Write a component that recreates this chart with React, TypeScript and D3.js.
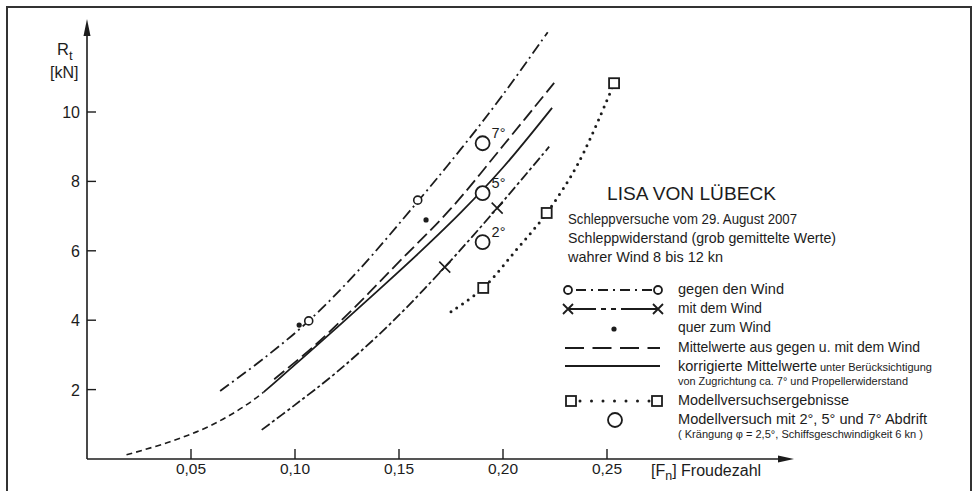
import * as d3 from "d3";

const W = 974;
const H = 491;

// axis ticks
const FN_TICKS = [0.05, 0.1, 0.15, 0.2, 0.25];
const FN_LABELS = ["0,05", "0,10", "0,15", "0,20", "0,25"];
const RT_TICKS = [2, 4, 6, 8, 10];

// gegen den Wind (dash-dot, small open circles)
const gegenFn = [0.064, 0.085, 0.1066, 0.13, 0.159, 0.18, 0.2, 0.2215];
const gegenRt = [1.96, 2.9, 3.98, 5.4, 7.42, 8.95, 10.5, 12.3];
const gegenMarkFn = [0.1066, 0.159];
const gegenMarkRt = [3.98, 7.46];

// mit dem Wind (dash, crosses)
const mitFn = [0.084, 0.1, 0.12, 0.145, 0.172, 0.1972, 0.2222];
const mitRt = [0.84, 1.56, 2.5, 3.85, 5.53, 7.23, 9.0];
const mitMarkFn = [0.172, 0.1972];
const mitMarkRt = [5.53, 7.23];

// quer zum Wind (dots)
const querFn = [0.102, 0.163];
const querRt = [3.86, 6.89];

// Mittelwerte aus gegen u. mit dem Wind (long dashes)
const mittelFn = [0.09, 0.11, 0.13, 0.15, 0.175, 0.201, 0.2246];
const mittelRt = [2.3, 3.3, 4.45, 5.68, 7.22, 9.1, 10.84];

// korrigierte Mittelwerte (solid, extrapolated part dashed)
const korrFn = [0.019, 0.04, 0.06, 0.08, 0.1, 0.12, 0.14, 0.16, 0.18, 0.2, 0.2236];
const korrRt = [0.12, 0.5, 0.98, 1.7, 2.72, 3.78, 4.86, 5.96, 7.12, 8.4, 10.12];
const korrSolidFrom = 0.085;

// Modellversuchsergebnisse (dotted, squares)
const modellFn = [0.175, 0.1905, 0.2063, 0.221, 0.2366, 0.2534];
const modellRt = [4.24, 4.93, 6.02, 7.09, 8.57, 10.83];
const modellMarkFn = [0.1905, 0.221, 0.2534];
const modellMarkRt = [4.93, 7.09, 10.83];

// Modellversuch mit Abdrift (big circles)
const abdriftFn = [0.1902, 0.1902, 0.1902];
const abdriftRt = [6.25, 7.66, 9.1];
const abdriftLabels = ["2°", "5°", "7°"];

const INK = "#1c1c1c";
const FONT = "'Liberation Sans', Arial, Helvetica, sans-serif";

const zip = (xs: number[], ys: number[]) => xs.map((x, i) => [x, ys[i]] as [number, number]);

export default function App() {
  const x = d3.scaleLinear().domain([0, 0.25]).range([87, 607]);
  const y = d3.scaleLinear().domain([0, 10]).range([459, 112]);

  const line = d3
    .line<[number, number]>()
    .x((d) => x(d[0]))
    .y((d) => y(d[1]))
    .curve(d3.curveCatmullRom.alpha(0.5));

  const x0 = x(0);
  const y0 = y(0);
  const splitX = x(korrSolidFrom);

  const cross = (cx: number, cy: number, s: number) =>
    `M${cx - s},${cy - s}L${cx + s},${cy + s}M${cx - s},${cy + s}L${cx + s},${cy - s}`;

  // legend layout
  const legSymX1 = 565;
  const legSymX2 = 660;
  const legTextX = 678;

  return (
    <svg
      width={W}
      height={H}
      style={{ position: "absolute", left: 0, top: 0, display: "block", background: "#fff" }}
      fontFamily={FONT}
    >
      <defs>
        <clipPath id="clipExtra">
          <rect x={0} y={0} width={splitX} height={H} />
        </clipPath>
        <clipPath id="clipSolid">
          <rect x={splitX} y={0} width={W - splitX} height={H} />
        </clipPath>
      </defs>

      {/* frame */}
      <rect x={7} y={7} width={964} height={500} fill="none" stroke="#333" strokeWidth={2} />

      {/* axes */}
      <g stroke={INK} strokeWidth={1.6} fill="none">
        <line x1={x0} x2={x0} y1={y0} y2={30} />
        <line x1={x0} x2={782} y1={y0} y2={y0} />
      </g>
      <path d={`M${x0},19L${x0 - 3.5},36L${x0 + 3.5},36Z`} fill={INK} />
      <path d={`M794,${y0}L778,${y0 - 3.5}L778,${y0 + 3.5}Z`} fill={INK} />

      {RT_TICKS.map((t) => (
        <g key={"ry" + t}>
          <line x1={x0} x2={x0 + 9} y1={y(t)} y2={y(t)} stroke={INK} strokeWidth={1.4} />
          <text x={80} y={y(t) + 6} textAnchor="end" fontSize={16} fill={INK}>
            {t}
          </text>
        </g>
      ))}
      {FN_TICKS.map((t, i) => (
        <g key={"fx" + t}>
          <line x1={x(t)} x2={x(t)} y1={y0} y2={y0 - 10} stroke={INK} strokeWidth={1.4} />
          <text x={x(t)} y={474} textAnchor="middle" fontSize={15.5} fill={INK}>
            {FN_LABELS[i]}
          </text>
        </g>
      ))}

      {/* axis titles */}
      <text x={57} y={55} fontSize={16.5} fill={INK}>
        R<tspan fontSize={13} dy={5}>t</tspan>
      </text>
      <text x={50} y={78} fontSize={16} fill={INK}>
        [kN]
      </text>
      <text x={651} y={476} fontSize={16} fill={INK}>
        [F<tspan fontSize={12.5} dy={4}>n</tspan>
        <tspan dy={-4}>] Froudezahl</tspan>
      </text>

      {/* curves */}
      <g fill="none" stroke={INK} strokeWidth={1.8}>
        <path d={line(zip(gegenFn, gegenRt)) || ""} strokeDasharray="11,4,2,4" />
        <path d={line(zip(mitFn, mitRt)) || ""} strokeDasharray="10,3,3,3" />
        <path d={line(zip(mittelFn, mittelRt)) || ""} strokeDasharray="13,5" />
        <path d={line(zip(korrFn, korrRt)) || ""} clipPath="url(#clipSolid)" />
        <path d={line(zip(korrFn, korrRt)) || ""} clipPath="url(#clipExtra)" strokeDasharray="6,4" strokeWidth={1.6} />
        <path
          d={line(zip(modellFn, modellRt)) || ""}
          strokeDasharray="0,7"
          strokeLinecap="round"
          strokeWidth={3}
        />
      </g>

      {/* markers */}
      {gegenMarkFn.map((f, i) => (
        <circle key={"g" + i} cx={x(f)} cy={y(gegenMarkRt[i])} r={4} fill="#fff" stroke={INK} strokeWidth={1.6} />
      ))}
      {mitMarkFn.map((f, i) => (
        <path key={"m" + i} d={cross(x(f), y(mitMarkRt[i]), 5.5)} stroke={INK} strokeWidth={1.6} />
      ))}
      {querFn.map((f, i) => (
        <circle key={"q" + i} cx={x(f)} cy={y(querRt[i])} r={2.6} fill={INK} />
      ))}
      {modellMarkFn.map((f, i) => (
        <rect
          key={"s" + i}
          x={x(f) - 5}
          y={y(modellMarkRt[i]) - 5}
          width={10}
          height={10}
          fill="#fff"
          stroke={INK}
          strokeWidth={1.8}
        />
      ))}
      {abdriftFn.map((f, i) => (
        <g key={"a" + i}>
          <circle cx={x(f)} cy={y(abdriftRt[i])} r={7} fill="#fff" stroke={INK} strokeWidth={1.8} />
          <text x={x(f) + 9} y={y(abdriftRt[i]) - 5} fontSize={14.5} fill={INK}>
            {abdriftLabels[i]}
          </text>
        </g>
      ))}

      {/* title block */}
      <g fill={INK}>
        <text x={607} y={200} fontSize={18} textLength={169} lengthAdjust="spacingAndGlyphs">
          LISA VON LÜBECK
        </text>
        <text x={568} y={224} fontSize={14.5} textLength={229} lengthAdjust="spacingAndGlyphs">
          Schleppversuche vom 29. August 2007
        </text>
        <text x={568} y={243} fontSize={14.5} textLength={268} lengthAdjust="spacingAndGlyphs">
          Schleppwiderstand (grob gemittelte Werte)
        </text>
        <text x={568} y={262} fontSize={14.5} textLength={155} lengthAdjust="spacingAndGlyphs">
          wahrer Wind 8 bis 12 kn
        </text>
      </g>

      {/* legend symbols */}
      <g fill="none" stroke={INK} strokeWidth={1.8}>
        <line x1={572} x2={654} y1={290} y2={290} strokeDasharray="10,5,2,5" strokeDashoffset={-4} />
        <circle cx={568} cy={290} r={4} fill="#fff" />
        <circle cx={658} cy={290} r={4} fill="#fff" />
        <line x1={568} x2={658} y1={309} y2={309} strokeDasharray="28,5,5,5,5,5,40" />
        <path d={cross(568, 309, 5)} />
        <path d={cross(658, 309, 5)} />
        <line x1={legSymX1} x2={legSymX2} y1={348} y2={348} strokeDasharray="19,8.5" />
        <line x1={legSymX1} x2={legSymX2} y1={366} y2={366} />
        <line x1={580} x2={650} y1={401} y2={401} strokeDasharray="0,11.5" strokeLinecap="round" strokeWidth={3} />
        <rect x={566} y={396} width={10} height={10} fill="#fff" />
        <rect x={652} y={396} width={10} height={10} fill="#fff" />
        <circle cx={615} cy={420} r={7} fill="#fff" />
      </g>
      <circle cx={614} cy={329} r={2.6} fill={INK} />

      {/* legend texts */}
      <g fill={INK} fontSize={14.5}>
        <text x={legTextX} y={294} textLength={106} lengthAdjust="spacingAndGlyphs">
          gegen den Wind
        </text>
        <text x={legTextX} y={313} textLength={84} lengthAdjust="spacingAndGlyphs">
          mit dem Wind
        </text>
        <text x={legTextX} y={332} textLength={93} lengthAdjust="spacingAndGlyphs">
          quer zum Wind
        </text>
        <text x={legTextX} y={352} textLength={242} lengthAdjust="spacingAndGlyphs">
          Mittelwerte aus gegen u. mit dem Wind
        </text>
        <text x={legTextX} y={371} textLength={139} lengthAdjust="spacingAndGlyphs">
          korrigierte Mittelwerte
        </text>
        <text x={820} y={371} fontSize={10} textLength={112} lengthAdjust="spacingAndGlyphs">
          unter Berücksichtigung
        </text>
        <text x={legTextX} y={385} fontSize={10} textLength={230} lengthAdjust="spacingAndGlyphs">
          von Zugrichtung ca. 7° und Propellerwiderstand
        </text>
        <text x={legTextX} y={405} textLength={171} lengthAdjust="spacingAndGlyphs">
          Modellversuchsergebnisse
        </text>
        <text x={legTextX} y={424} textLength={249} lengthAdjust="spacingAndGlyphs">
          Modellversuch mit 2°, 5° und 7° Abdrift
        </text>
        <text x={legTextX} y={438} fontSize={10} textLength={245} lengthAdjust="spacingAndGlyphs">
          ( Krängung  φ = 2,5°, Schiffsgeschwindigkeit 6 kn )
        </text>
      </g>
    </svg>
  );
}
